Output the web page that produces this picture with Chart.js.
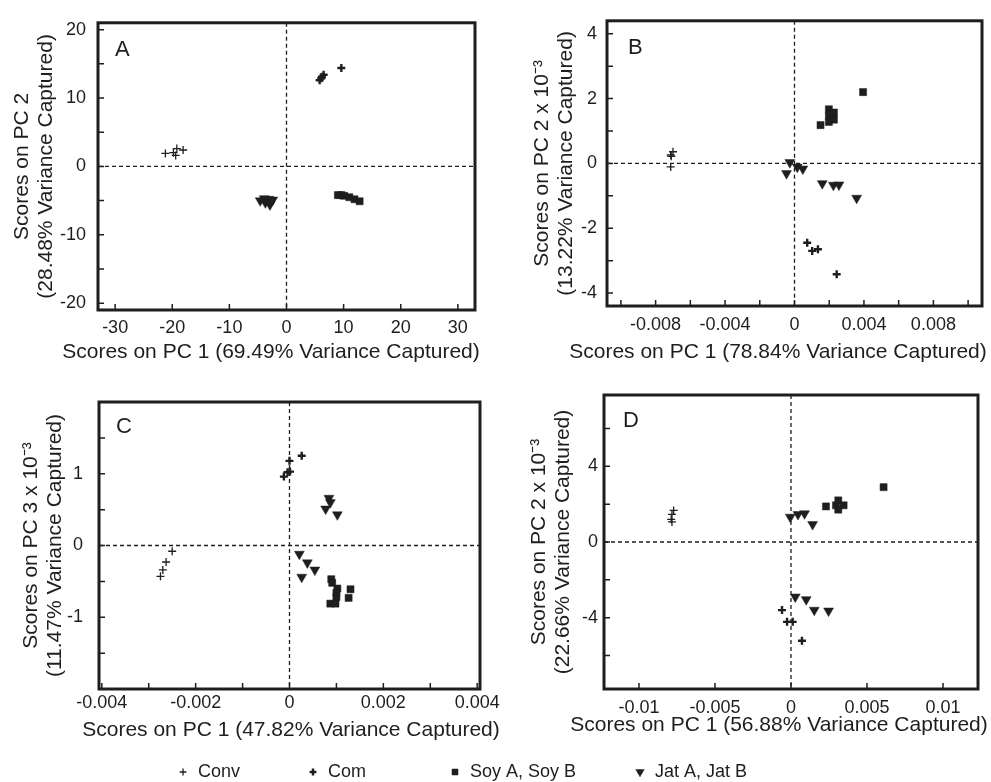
<!DOCTYPE html>
<html>
<head>
<meta charset="utf-8">
<script src="https://cdn.jsdelivr.net/npm/chart.js@4.4.1/dist/chart.umd.min.js"></script>
<style>
  html, body { margin: 0; padding: 0; background: #fff; }
  #wrap { position: relative; width: 991px; height: 782px; }
  #wrap canvas { position: absolute; left: 0; top: 0; }
</style>
</head>
<body>
<div id="wrap">
  <canvas id="pa" width="991" height="782"></canvas>
  <canvas id="pb" width="991" height="782"></canvas>
  <canvas id="pc" width="991" height="782"></canvas>
  <canvas id="pd" width="991" height="782"></canvas>
</div>
<script>
// ---- data ----
const seriesNames = ['Conv', 'Com', 'Soy A, Soy B', 'Jat A, Jat B'];

// panel A
const aConvX = [-21.2, -19.8, -19.4, -19.2, -18.1];
const aConvY = [1.9, 2.0, 1.6, 2.6, 2.4];
const aComX = [5.8, 6.1, 6.2, 6.5, 9.6];
const aComY = [12.6, 12.9, 13.1, 13.4, 14.4];
const aSoyX = [9.0, 9.6, 10.1, 11.0, 11.9, 12.8];
const aSoyY = [-4.2, -4.2, -4.3, -4.5, -4.8, -5.1];
const aJatX = [-4.6, -3.9, -3.7, -3.1, -2.9, -2.4];
const aJatY = [-5.0, -4.7, -5.3, -4.8, -5.6, -4.9];
const aXTicks = [-30, -20, -10, 0, 10, 20, 30];
const aXLabels = [-30, -20, -10, 0, 10, 20, 30];
const aYTicks = [-20, -15, -10, -5, 0, 5, 10, 15, 20];
const aYLabels = [-20, -10, 0, 10, 20];

// panel B (y in units of 10^-3)
const bConvX = [-0.00713, -0.0071, -0.0070, -0.00713];
const bConvY = [0.26, 0.22, 0.36, -0.11];
const bComX = [0.00073, 0.00102, 0.00135, 0.00243];
const bComY = [-2.45, -2.70, -2.65, -3.42];
const bSoyX = [0.0015, 0.00198, 0.00198, 0.00198, 0.00227, 0.00227, 0.00395];
const bSoyY = [1.18, 1.67, 1.47, 1.28, 1.57, 1.35, 2.2];
const bJatX = [-0.00046, -0.00027, 0.00016, 0.00048, 0.0016, 0.00224, 0.00256, 0.00358];
const bJatY = [-0.31, 0.03, -0.11, -0.17, -0.62, -0.67, -0.66, -1.07];
const bXTicks = [-0.01, -0.008, -0.006, -0.004, -0.002, 0, 0.002, 0.004, 0.006, 0.008, 0.01];
const bXLabels = [-0.008, -0.004, 0, 0.004, 0.008];
const bYTicks = [-4, -3, -2, -1, 0, 1, 2, 3, 4];
const bYLabels = [-4, -2, 0, 2, 4];

// panel C (y in units of 10^-3)
const cConvX = [-0.00275, -0.0027, -0.00263, -0.0025];
const cConvY = [-0.43, -0.34, -0.23, -0.08];
const cComX = [-0.00012, -0.00004, 0.00001, 0.0, 0.00026];
const cComY = [0.96, 1.02, 1.03, 1.18, 1.25];
const cSoyX = [0.00089, 0.00091, 0.00102, 0.001, 0.001, 0.00087, 0.00098, 0.0013, 0.00126];
const cSoyY = [-0.47, -0.52, -0.6, -0.66, -0.72, -0.81, -0.81, -0.61, -0.73];
const cJatX = [0.00084, 0.00087, 0.00077, 0.00102, 0.00021, 0.00038, 0.00054, 0.00026];
const cJatY = [0.66, 0.6, 0.51, 0.43, -0.12, -0.24, -0.34, -0.44];
const cXTicks = [-0.004, -0.003, -0.002, -0.001, 0, 0.001, 0.002, 0.003, 0.004];
const cXLabels = [-0.004, -0.002, 0, 0.002, 0.004];
const cYTicks = [-1.5, -1, -0.5, 0, 0.5, 1, 1.5];
const cYLabels = [-1, 0, 1];

// panel D (y in units of 10^-3)
const dConvX = [-0.00772, -0.00783, -0.00788, -0.00783];
const dConvY = [1.67, 1.46, 1.2, 1.06];
const dComX = [-0.00059, -0.00026, 0.00011, 0.00072];
const dComY = [-3.6, -4.22, -4.22, -5.22];
const dSoyX = [0.0023, 0.00296, 0.00311, 0.00311, 0.00346, 0.00609];
const dSoyY = [1.88, 1.94, 2.2, 1.71, 1.94, 2.9];
const dJatX = [-0.00005, 0.00046, 0.00089, 0.00142, 0.00028, 0.001, 0.00153, 0.00247];
const dJatY = [1.32, 1.46, 1.5, 0.93, -2.9, -3.04, -3.6, -3.64];
const dXTicks = [-0.01, -0.005, 0, 0.005, 0.01];
const dXLabels = [-0.01, -0.005, 0, 0.005, 0.01];
const dYTicks = [-6, -4, -2, 0, 2, 4, 6];
const dYLabels = [-4, 0, 4];

// ---- styling ----
const FONT = "'Liberation Sans', Arial, Helvetica, sans-serif";
const INK = '#1e1e1e';
const TITLE_SIZE = 21;
const Y_TITLE = { size: TITLE_SIZE, lineHeight: 1.17 };  // ~24.5 px line
Chart.defaults.font.family = FONT;
Chart.defaults.color = INK;

const markers = [
  { pointStyle: 'cross', radius: 4, borderWidth: 1.3, rotation: 0 },
  { pointStyle: 'cross', radius: 4, borderWidth: 2.4, rotation: 0 },
  { pointStyle: 'rect', radius: 5, borderWidth: 0.5, rotation: 0 },
  { pointStyle: 'triangle', radius: 5.7, borderWidth: 0.5, rotation: 180 },
];

function pts(xs, ys) {
  return xs.map((x, i) => ({ x: x, y: ys[i] }));
}

function makeSets(groups) {
  return groups.map((g, i) => ({
    label: seriesNames[i],
    data: pts(g[0], g[1]),
    pointStyle: markers[i].pointStyle,
    pointRadius: markers[i].radius,
    pointBorderWidth: markers[i].borderWidth,
    pointRotation: markers[i].rotation,
    borderColor: INK,
    backgroundColor: INK,
  }));
}

// zero lines, inward ticks, frame, x title, panel letter, legend
const framePlugin = {
  id: 'frame',
  beforeDatasetsDraw(chart) {
    const { ctx, chartArea: a, scales: { x, y } } = chart;
    const x0 = x.getPixelForValue(0);
    const y0 = y.getPixelForValue(0);
    ctx.save();
    ctx.strokeStyle = INK;
    ctx.lineWidth = 1.3;
    ctx.setLineDash([4, 3]);
    ctx.beginPath();
    ctx.moveTo(x0, a.top); ctx.lineTo(x0, a.bottom);
    ctx.moveTo(a.left, y0); ctx.lineTo(a.right, y0);
    ctx.stroke();
    ctx.restore();
  },
  afterDraw(chart, args, opts) {
    const { ctx, chartArea: a, scales: { x, y } } = chart;
    ctx.save();
    ctx.strokeStyle = INK;
    ctx.lineWidth = 1.5;
    ctx.beginPath();
    x.ticks.forEach(t => {
      const px = x.getPixelForValue(t.value);
      ctx.moveTo(px, a.bottom); ctx.lineTo(px, a.bottom - 6);
    });
    y.ticks.forEach(t => {
      const py = y.getPixelForValue(t.value);
      ctx.moveTo(a.left, py); ctx.lineTo(a.left + 6, py);
    });
    ctx.stroke();
    ctx.lineWidth = 3;
    ctx.strokeRect(a.left, a.top, a.right - a.left, a.bottom - a.top);

    ctx.fillStyle = INK;
    // x axis title, wider than the plot box in the original
    ctx.font = TITLE_SIZE + 'px ' + FONT;
    ctx.textAlign = 'center';
    ctx.textBaseline = 'middle';
    ctx.fillText(opts.xTitle, opts.xTitleX, opts.xTitleY);

    ctx.font = '22px ' + FONT;
    ctx.textBaseline = 'alphabetic';
    ctx.textAlign = 'left';
    ctx.fillText(opts.letter, a.left + opts.dx, a.top + opts.dy);

    if (opts.legend) {
      const lx = [183, 313, 455, 640];
      const ly = 772;
      ctx.font = '18px ' + FONT;
      ctx.textBaseline = 'middle';
      seriesNames.forEach((name, i) => {
        const m = markers[i];
        ctx.lineWidth = m.borderWidth;
        Chart.helpers.drawPoint(ctx, {
          pointStyle: m.pointStyle,
          radius: m.radius * 0.85,
          rotation: m.rotation,
          borderWidth: m.borderWidth,
        }, lx[i], ly);
        ctx.fillText(name, lx[i] + 15, ly);
      });
    }
    ctx.restore();
  }
};

function panel(id, p) {
  const padLeft = p.yTitleAt - Y_TITLE.size * Y_TITLE.lineHeight / 2;
  const axisBottom = p.xTitleAt + 13;
  new Chart(document.getElementById(id), {
    type: 'scatter',
    data: { datasets: makeSets(p.groups) },
    options: {
      responsive: false,
      animation: false,
      layout: {
        padding: { left: padLeft, right: 991 - p.area.right, top: p.area.top, bottom: 782 - axisBottom }
      },
      plugins: {
        legend: { display: false },
        tooltip: { enabled: false },
        frame: {
          letter: p.letter, dx: p.letterDx, dy: p.letterDy, legend: !!p.legend,
          xTitle: p.xTitle, xTitleX: p.xTitleX, xTitleY: p.xTitleAt,
        },
      },
      scales: {
        x: {
          type: 'linear',
          min: p.xRange[0],
          max: p.xRange[1],
          afterBuildTicks: s => { s.ticks = p.xTicks.map(v => ({ value: v })); },
          afterFit: s => { s.height = axisBottom - p.area.bottom; },
          grid: { display: false, drawTicks: false },
          border: { display: false },
          ticks: {
            autoSkip: false, maxRotation: 0, padding: p.xPad,
            font: { size: 18 }, color: INK,
            callback: v => (p.xLabels.includes(v) ? String(v) : ''),
          },
          title: { display: false },
        },
        y: {
          type: 'linear',
          min: p.yRange[0],
          max: p.yRange[1],
          afterBuildTicks: s => { s.ticks = p.yTicks.map(v => ({ value: v })); },
          afterFit: s => { s.width = p.area.left - padLeft; },
          grid: { display: false, drawTicks: false },
          border: { display: false },
          ticks: {
            autoSkip: false, padding: p.yPad,
            font: { size: 18 }, color: INK,
            callback: v => (p.yLabels.includes(v) ? String(v) : ''),
          },
          title: { display: true, text: p.yTitle, font: Y_TITLE, padding: 0, color: INK },
        },
      },
    },
    plugins: [framePlugin],
  });
}

panel('pa', {
  groups: [[aConvX, aConvY], [aComX, aComY], [aSoyX, aSoyY], [aJatX, aJatY]],
  xTicks: aXTicks, xLabels: aXLabels, yTicks: aYTicks, yLabels: aYLabels,
  xRange: [-33, 33], yRange: [-21, 21],
  area: { left: 98, right: 475, top: 14, bottom: 310 },
  yTitleAt: 22, xTitleAt: 352, xTitleX: 271, xPad: 7, yPad: 12,
  xTitle: 'Scores on PC 1 (69.49% Variance Captured)',
  yTitle: ['Scores on PC 2', '(28.48% Variance Captured)'],
  letter: 'A', letterDx: 17, letterDy: 33,
});

panel('pb', {
  groups: [[bConvX, bConvY], [bComX, bComY], [bSoyX, bSoyY], [bJatX, bJatY]],
  xTicks: bXTicks, xLabels: bXLabels, yTicks: bYTicks, yLabels: bYLabels,
  xRange: [-0.0108, 0.0108], yRange: [-4.4, 4.4],
  area: { left: 607, right: 982, top: 14, bottom: 306 },
  yTitleAt: 542, xTitleAt: 352, xTitleX: 778, xPad: 8, yPad: 10,
  xTitle: 'Scores on PC 1 (78.84% Variance Captured)',
  yTitle: ['Scores on PC 2 x 10⁻³', '(13.22% Variance Captured)'],
  letter: 'B', letterDx: 21, letterDy: 33,
});

panel('pc', {
  groups: [[cConvX, cConvY], [cComX, cComY], [cSoyX, cSoyY], [cJatX, cJatY]],
  xTicks: cXTicks, xLabels: cXLabels, yTicks: cYTicks, yLabels: cYLabels,
  xRange: [-0.00406, 0.00406], yRange: [-2, 2],
  area: { left: 99, right: 480, top: 402, bottom: 689 },
  yTitleAt: 31, xTitleAt: 730, xTitleX: 291, xPad: 3, yPad: 16,
  xTitle: 'Scores on PC 1 (47.82% Variance Captured)',
  yTitle: ['Scores on PC 3 x 10⁻³', '(11.47% Variance Captured)'],
  letter: 'C', letterDx: 17, letterDy: 31,
});

panel('pd', {
  groups: [[dConvX, dConvY], [dComX, dComY], [dSoyX, dSoyY], [dJatX, dJatY]],
  xTicks: dXTicks, xLabels: dXLabels, yTicks: dYTicks, yLabels: dYLabels,
  xRange: [-0.0123, 0.0123], yRange: [-7.77, 7.77],
  area: { left: 604, right: 978, top: 395, bottom: 689 },
  yTitleAt: 539, xTitleAt: 725, xTitleX: 779, xPad: 8, yPad: 6,
  xTitle: 'Scores on PC 1 (56.88% Variance Captured)',
  yTitle: ['Scores on PC 2 x 10⁻³', '(22.66% Variance Captured)'],
  letter: 'D', letterDx: 19, letterDy: 32,
  legend: true,
});
</script>
</body>
</html>
